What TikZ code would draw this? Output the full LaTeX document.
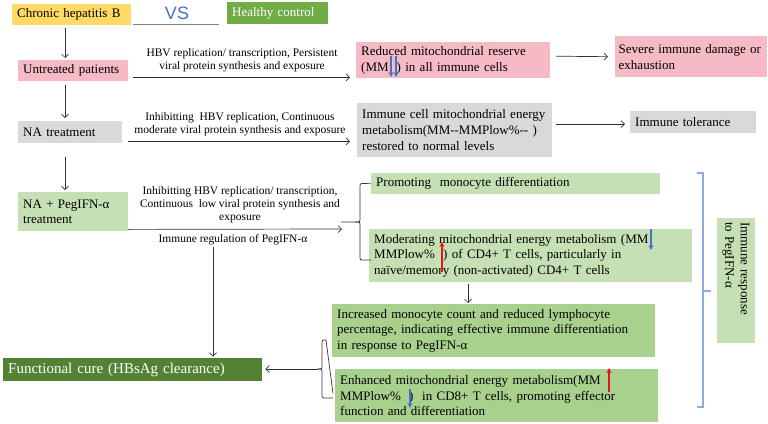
\documentclass[tikz,border=0pt]{standalone}
\usepackage{fontspec}
\setmainfont{Liberation Serif}
\setsansfont{Liberation Sans}
\usetikzlibrary{arrows.meta,calc}
\definecolor{cyel}{HTML}{FFD966}
\definecolor{chc}{HTML}{70AD47}
\definecolor{cpink}{RGB}{246,186,196}
\definecolor{cgray}{HTML}{D9D9D9}
\definecolor{clg}{HTML}{C5E0B4}
\definecolor{cmg}{HTML}{A9D18E}
\definecolor{cdg}{HTML}{548235}
\definecolor{cvs}{HTML}{4472C4}
\definecolor{cbr}{HTML}{8FAADC}
\definecolor{ardark}{RGB}{50,50,50}
\definecolor{arblue}{HTML}{4472C4}
\definecolor{arred}{RGB}{230,20,20}
\newcommand\argap{\hspace{4pt}}
\begin{document}
\begin{tikzpicture}[x=1pt,y=-1pt,
  box/.style={draw=none, inner xsep=5pt, inner ysep=1pt, anchor=north west, align=left, font=\fontsize{13}{15.8}\selectfont},
  arr/.style={draw=ardark, line width=0.7pt, -{Straight Barb[length=3.5pt,width=7pt]}},
  plain/.style={draw=ardark, line width=0.7pt},
  lab/.style={align=center, font=\fontsize{11.5}{13.2}\selectfont, inner sep=0pt},
  bluebr/.style={draw=cbr, line width=1.1pt},
  bluar/.style={draw=arblue, line width=1.1pt, -{Stealth[length=5pt,width=5pt]}},
  redar/.style={draw=arred, line width=1.1pt, -{Stealth[length=5pt,width=5pt]}}]
\useasboundingbox (0,0) rectangle (768,423);

% boxes
\node[box, fill=cyel, text width=109pt, minimum height=21pt] (chb) at (12,4) {Chronic hepatitis B};
\node[box, fill=chc, text width=91pt, minimum height=22pt, text=white] (hc) at (227,2) {Healthy control};
\node[font=\sffamily\fontsize{18}{20}\selectfont, text=cvs, inner sep=0pt] (vs) at (177,13) {VS};
\node[box, fill=cpink, text width=100pt, minimum height=21pt] (unt) at (18,60) {Untreated patients};
\node[box, fill=cpink, text width=184pt, minimum height=36pt] (red) at (356,42) {Reduced mitochondrial reserve\\(MM\argap\argap) in all immune cells};
\node[box, fill=cpink, inner xsep=3.5pt, text width=145pt, minimum height=41pt] (sev) at (615,36) {Severe immune damage or\\exhaustion};
\node[box, fill=cgray, text width=94pt, minimum height=22pt] (na) at (18,121) {NA treatment};
\node[box, fill=cgray, text width=185pt, minimum height=54pt] (imm) at (357,103) {Immune cell mitochondrial energy\\metabolism(MM\mbox{-}\mbox{-}MMPlow\%\mbox{-}\mbox{-} )\\restored to normal levels};
\node[box, fill=cgray, text width=116pt, minimum height=22pt] (tol) at (630,111) {Immune tolerance};
\node[box, fill=clg, text width=100pt, minimum height=39pt] (peg) at (18,192) {NA + PegIFN-α\\treatment};
\node[box, fill=clg, text width=279pt, minimum height=21pt] (pro) at (371,173) {Promoting\ \ monocyte differentiation};
\node[box, fill=clg, text width=313pt, minimum height=53pt] (mod) at (369,229) {Moderating mitochondrial energy metabolism (MM \argap\\MMPlow\% \argap) of CD4+ T cells, particularly in\\naïve/memory (non-activated) CD4+ T cells};
\node[box, fill=cmg, text width=313pt, minimum height=53pt] (inc) at (332,304) {Increased monocyte count and reduced lymphocyte\\percentage, indicating effective immune differentiation\\in response to PegIFN-α};
\node[box, fill=cmg, text width=313pt, minimum height=53pt] (enh) at (335,369) {Enhanced mitochondrial energy metabolism(MM \argap\\MMPlow\% \argap)\ \ in CD8+ T cells, promoting effector\\function and differentiation};
\node[box, fill=cdg, text=white, font=\fontsize{15}{17}\selectfont, text width=249pt, minimum height=23pt] (fc) at (3,358) {Functional cure (HBsAg clearance)};
\node[fill=clg, rotate=-90, text width=117pt, minimum height=38pt, inner xsep=4pt, inner ysep=1pt, align=left, font=\fontsize{13}{15.5}\selectfont] (ir) at (736,280.5) {Immune response\\to PegIFN-α};

% small up/down arrows inside the texts
\draw[bluar] (391,56) -- (391,77);
\draw[bluar] (396,56) -- (396,77);
\draw[bluar] (651,229) -- (651,250);
\draw[redar] (442,272) -- (442,242);
\draw[redar] (609,392) -- (609,368);
\draw[bluar] (410,389) -- (410,408);

% labels
\node[lab] (l1) at (242,60) {HBV replication/ transcription, Persistent\\viral protein synthesis and exposure};
\node[lab] (l2) at (240,124.5) {Inhibitting\ \ HBV replication, Continuous\\moderate viral protein synthesis and exposure};
\node[lab] (l3) at (240,205) {Inhibitting HBV replication/ transcription,\\Continuous\ \ low viral protein synthesis and\\exposure};
\node[lab] (l4) at (233,240) {Immune regulation of PegIFN-α};

% VS underline
\draw[draw=gray, line width=1.1pt] ([xshift=2pt,yshift=1pt]chb.south east) -- ([xshift=-8pt]hc.south west);

% connectors
\draw[arr] ([xshift=53pt,yshift=-3pt]chb.south west) -- ([xshift=47pt,yshift=2pt]unt.north west);
\draw[arr] ([xshift=5pt,yshift=4pt]unt.south east) -- ([xshift=-6pt,yshift=1pt]red.south west);
\draw[arr] ([xshift=6pt,yshift=4pt]red.east) -- ([xshift=-7pt]sev.west);
\draw[arr] ([xshift=47pt,yshift=-4pt]unt.south west) -- ([xshift=47pt,yshift=3pt]na.north west);
\draw[arr] ([xshift=6pt,yshift=2pt]na.south east) -- ([xshift=-7pt,yshift=16pt]imm.south west);
\draw[arr] ([xshift=4pt,yshift=6pt]imm.east) -- ([xshift=-5pt,yshift=-2pt]tol.west);
\draw[arr] ([xshift=47pt,yshift=-14pt]na.south west) -- ([xshift=47pt,yshift=2pt]peg.north west);

% brace 1
\coordinate (b1) at (341,222);
\draw[plain] (pro.west) -- (364,183.5) .. controls (360,183.5) .. (360,188) -- (360,218) .. controls (360,222) .. (355,222) -- (b1);
\draw[plain] (355,222) .. controls (360,222) .. (360,226) -- (360,256) .. controls (360,260) .. (364,260) -- (371,260);
\draw[arr] ([yshift=2pt]peg.south east) -- ([xshift=1pt,yshift=-7pt]b1);

\draw[arr] ([xshift=99pt,yshift=-2pt]mod.south west) -- ([xshift=136pt,yshift=1pt]inc.north west);
\draw[arr, shorten >=1.5pt] ([xshift=-20pt,yshift=-2pt]l4.south) -- ([xshift=-20pt]l4.south |- fc.north);

% brace 2
\coordinate (b2) at (318,369);
\draw[plain] ([xshift=1pt,yshift=-36pt]inc.south west) -- (326,340) .. controls (322,340) .. (322,344) -- (322,365) .. controls (322,369) .. (b2);
\draw[plain] (b2) .. controls (322,369) .. (322,373) -- (322,394) .. controls (322,398) .. (326,398) -- (333,398);
\draw[arr, shorten >=3pt] (b2) -- (b2 -| fc.east);

% blue bracket
\coordinate (bt) at (703,173);
\coordinate (bb) at (703,407);
\draw[bluebr] ([xshift=-6pt]bt) -- (bt) -- (bb) -- ([xshift=-6pt]bb);
\draw[bluebr] (703,291) -- (711,291);
\end{tikzpicture}
\end{document}
